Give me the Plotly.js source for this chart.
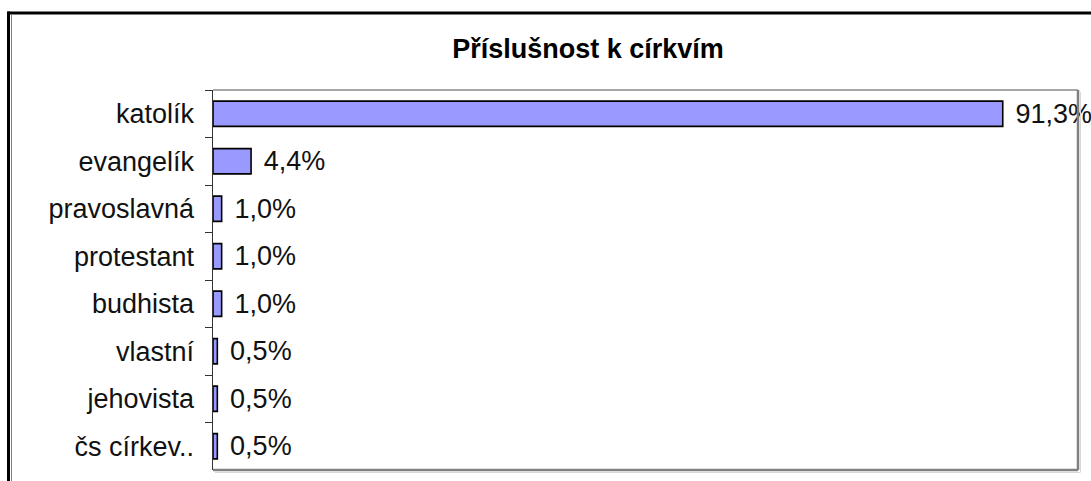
<!DOCTYPE html>
<html>
<head>
<meta charset="utf-8">
<script src="https://cdn.plot.ly/plotly-3.0.1.min.js"></script>
<style>
html,body{margin:0;padding:0;background:#fff;}
#chart{width:1091px;height:481px;}
</style>
</head>
<body>
<div id="chart"></div>
<script>
const categories = ["katolík", "evangelík", "pravoslavná", "protestant", "budhista", "vlastní", "jehovista", "čs církev.."];
const percentValues = [91.3, 4.4, 1.0, 1.0, 1.0, 0.5, 0.5, 0.5];
const chartTitle = "Příslušnost k církvím";

const W = 1091, H = 481;
const mL = 213, mR = 13, mT = 90, mB = 11;
const pw = W - mL - mR, ph = H - mT - mB;
function px(x){ return (x - mL) / pw; }
function py(y){ return (H - mB - y) / ph; }

const FONT = "Liberation Sans, Arial, sans-serif";

const trace = {
  type: 'bar',
  orientation: 'h',
  y: categories,
  x: percentValues,
  marker: {color: '#9999FF', line: {color: '#000000', width: 1.6}},
  texttemplate: '\u00a0\u200a%{x:.1f}%',
  textposition: 'outside',
  constraintext: 'none',
  cliponaxis: false,
  textfont: {family: FONT, size: 27, color: '#111'},
  hoverinfo: 'none'
};

const layout = {
  width: W, height: H,
  margin: {l: mL, r: mR, t: mT, b: mB, pad: 0},
  paper_bgcolor: '#fff',
  plot_bgcolor: '#fff',
  separators: ', ',
  showlegend: false,
  bargap: 0.47,
  font: {family: FONT, size: 27, color: '#111'},
  title: {
    text: '<b>' + chartTitle + '</b>',
    font: {family: FONT, size: 27, color: '#000'},
    xref: 'container', yref: 'container',
    x: 588 / W, xanchor: 'center',
    y: 1 - 49 / H, yanchor: 'middle'
  },
  xaxis: {
    range: [0, 100],
    showgrid: false, zeroline: false,
    showticklabels: false, ticks: '',
    showline: false, fixedrange: true
  },
  yaxis: {
    type: 'category',
    autorange: 'reversed',
    showgrid: false, zeroline: false,
    showline: true, linecolor: '#333', linewidth: 1.5,
    ticks: 'outside', ticklen: 7, tickcolor: '#333', tickwidth: 1,
    tickson: 'boundaries',
    ticklabelstandoff: 12,
    tickfont: {family: FONT, size: 27, color: '#111'},
    fixedrange: true
  },
  shapes: [
    {type: 'line', xref: 'paper', yref: 'paper', x0: 0, x1: 1, y0: 1, y1: 1, line: {color: '#8a8a8a', width: 1.5}},
    {type: 'line', xref: 'paper', yref: 'paper', x0: 1, x1: 1, y0: 0, y1: 1, line: {color: '#808080', width: 2.5}},
    {type: 'line', xref: 'paper', yref: 'paper', x0: 0, x1: 1, y0: 0, y1: 0, line: {color: '#808080', width: 2.5}},
    {type: 'line', xref: 'paper', yref: 'paper', x0: px(1080.5), x1: px(1080.5), y0: py(472), y1: py(92), line: {color: '#d8d8d8', width: 1}},
    {type: 'line', xref: 'paper', yref: 'paper', x0: px(215), x1: px(1080.5), y0: py(472.5), y1: py(472.5), line: {color: '#d8d8d8', width: 1}},
    {type: 'line', xref: 'paper', yref: 'paper', x0: px(7.5), x1: px(1100), y0: py(13), y1: py(13), line: {color: '#000', width: 3}},
    {type: 'line', xref: 'paper', yref: 'paper', x0: px(8.5), x1: px(8.5), y0: py(11.5), y1: py(495), line: {color: '#000', width: 3}},
    {type: 'line', xref: 'paper', yref: 'paper', x0: px(11.5), x1: px(11.5), y0: py(15), y1: py(495), line: {color: '#808080', width: 1}}
  ]
};

Plotly.newPlot('chart', [trace], layout, {staticPlot: true, displayModeBar: false});
</script>
</body>
</html>
